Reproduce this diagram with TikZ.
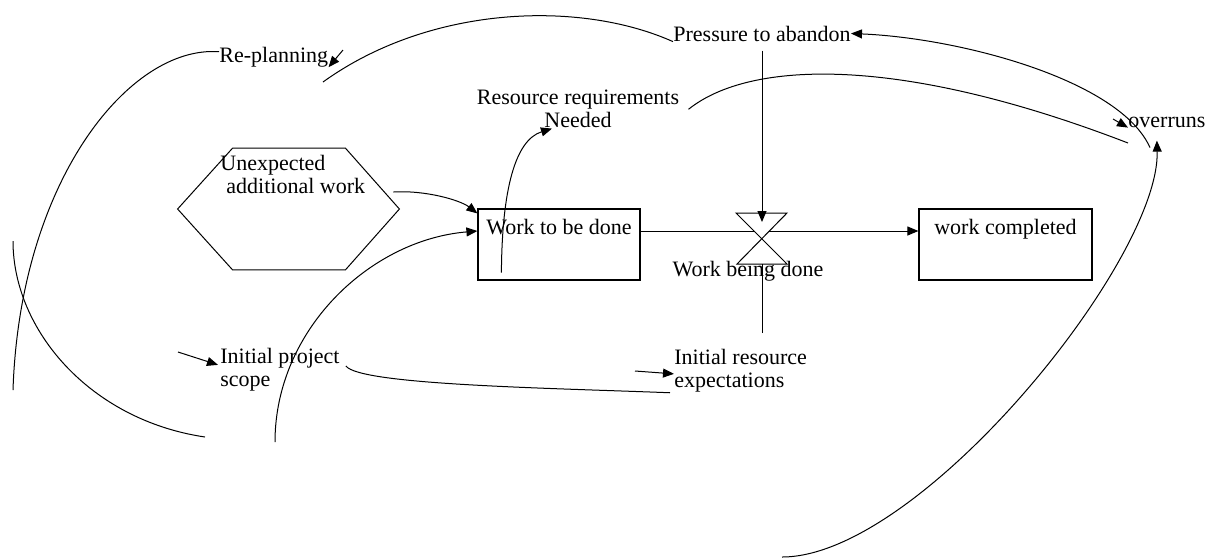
\documentclass[tikz,border=0pt]{standalone}
\usepackage{fontspec}
\setmainfont{Liberation Serif}
\usetikzlibrary{arrows.meta,calc}

\begin{document}
\begin{tikzpicture}[x=0.5pt,y=-0.5pt,
  font=\fontsize{11}{11.5}\selectfont,
  lbl/.style={inner sep=0pt},
  stock/.style={draw,line width=0.6pt,inner sep=0pt,text height=12.8pt,text depth=22.7pt},
  link/.style={line width=0.5pt},
  arr/.style={line width=0.5pt,-{Triangle[length=5.5pt,width=4.5pt]}}]
\useasboundingbox (0,0) rectangle (1211,559);
\node[lbl,anchor=base west] (replan) at (219,62) {Re-planning};
\node[lbl,anchor=base west] (press) at (673,41) {Pressure to abandon};
\node[lbl,anchor=north,align=center] (resreq) at (578,90) {Resource requirements\\Needed};
\node[lbl,anchor=base west] (over) at (1128,127) {overruns};
\node[inner sep=0pt,minimum width=110.5pt,minimum height=60.5pt] (hex) at (288.5,209) {};
\node[lbl,anchor=north west,align=left] (unexp) at (220,155) {Unexpected\\\hspace*{3pt}additional work};
\node[stock,minimum width=81pt] (todo) at (559,244.5) {Work to be done};
\node[stock,minimum width=86.5pt] (done) at (1005.5,244.5) {work completed};
\node[lbl] (wbd) at (748,271) {Work being done};
\node[lbl,anchor=north west,align=left] (ips) at (220,348) {Initial project\\scope};
\node[lbl,anchor=north west,align=left] (ire) at (674,349) {Initial resource\\expectations};
% valve and loose ends
\coordinate (vmid) at (762,231);
\coordinate (vbot) at (762,264);
\coordinate (endA) at (13,390);
\coordinate (endB1) at (13,241);
\coordinate (endB2) at (205,437);
\coordinate (rpin) at (343,50);
\coordinate (prend) at (323,82);
\coordinate (rrend) at (1128,143);
\coordinate (ovin) at (1113,119);
\coordinate (bigend) at (782,557);
\coordinate (wdin) at (275,442);
\coordinate (ipsin) at (178,352);
\coordinate (irein) at (635,371);
% hexagon
\path[draw,link] ([xshift=27.5pt]hex.north west) -- ([xshift=-27pt]hex.north east) -- (hex.east)
  -- ([xshift=-27pt]hex.south east) -- ([xshift=27.5pt]hex.south west) -- (hex.west) -- cycle;
% flow
\path[draw,arr] (todo.east |- vmid) -- (done.west |- vmid);
\path[draw,link,fill=white] (736,213) -- (787,213) -- (737,264) -- (787,264) -- cycle;
\path[draw,arr] ($(press.south -| vmid)+(0,9)$) -- ([yshift=4.5pt]vmid);
\path[draw,link] ($(ire.north -| vbot)+(0,-16)$) -- (vbot);
% links
\path[draw,link] ([yshift=2.5pt]replan.west) .. controls (130,45) and (20,180) .. (endA);
\path[draw,link] (endB1) .. controls (13,330) and (90,420) .. (endB2);
\path[draw,arr] (rpin) -- (replan.south east);
\path[draw,link] (press.south west) .. controls (580,0) and (430,5) .. (prend);
\path[draw,arr] ([shift={(11pt,-10pt)}]over.south west) .. controls (1120,80) and (960,38) .. (press.east);
\path[draw,link] ([xshift=4.5pt]resreq.east) .. controls (750,60) and (900,55) .. (rrend);
\path[draw,arr] (ovin) -- (over.south west);
\path[draw,arr] (bigend) .. controls (920,557) and (1160,260) .. ([shift={(-5pt,-6.5pt)}]over.south);
\path[draw,arr] ([shift={(-3pt,8.5pt)}]hex.east) .. controls (425,190) and (460,200) .. ([yshift=-2.5pt]todo.north west);
\path[draw,arr] (wdin) .. controls (275,330) and (370,240) .. (todo.west |- vmid);
\path[draw,arr] ([shift={(12pt,4pt)}]todo.south west) .. controls (502,190) and (515,140) .. ([xshift=-13pt]resreq.south);
\path[draw,link] ([shift={(3pt,-9pt)}]ips.north east) .. controls (360,385) and (550,388) .. ([xshift=-2pt]ire.south west);
\path[draw,arr] (ipsin) -- ([shift={(-1pt,2.5pt)}]ips.west);
\path[draw,arr] (irein) -- ([yshift=-1.5pt]ire.west);
\end{tikzpicture}
\end{document}
